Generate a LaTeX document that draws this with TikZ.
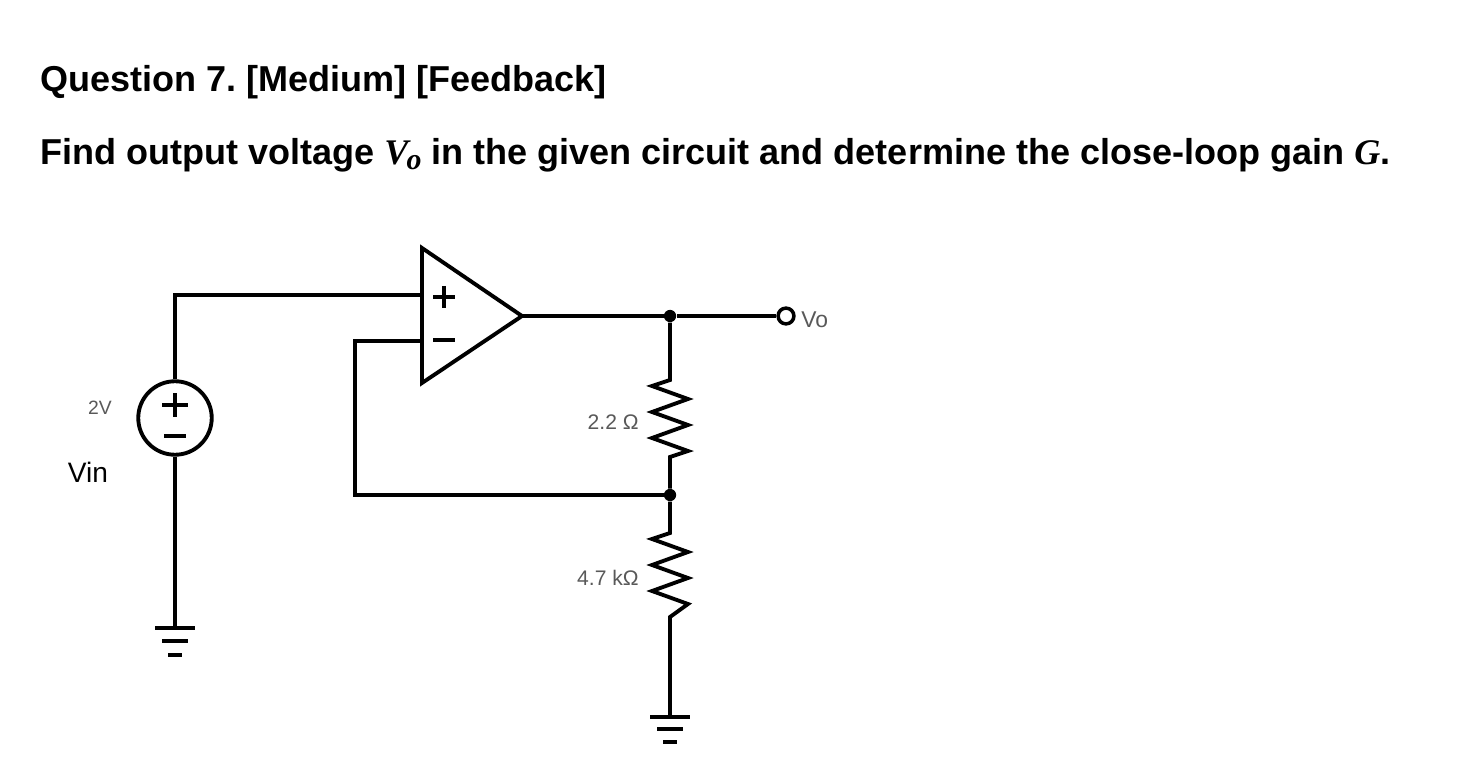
\documentclass[tikz,border=0pt]{standalone}
\usepackage{fontspec}
\setmainfont{Liberation Sans}
\newfontfamily\serifit{Liberation Serif}
\frenchspacing
\begin{document}
\begin{tikzpicture}[x=0.02cm,y=-0.02cm,
  wire/.style={line width=2.2pt,line join=miter},
  lbl/.style={text=black!65,font=\fontsize{12}{14}\selectfont,inner sep=0},
  dot/.style={circle,fill=black,inner sep=0,minimum size=7pt}]
\useasboundingbox (0,0) rectangle (1466,780);
\node[anchor=west,inner sep=0,font=\fontsize{20.5}{24}\selectfont\bfseries] (t1) at (40,82) {Question 7. [Medium] [Feedback]};
\node[anchor=west,inner sep=0,font=\fontsize{20.5}{24}\selectfont\bfseries] (t2) at (40,155) {Find output voltage {\serifit\itshape V\kern-1pt\raisebox{-3pt}{\fontsize{17}{17}\selectfont o}} in the given circuit and determine the close-loop gain {\serifit\itshape G}.};
% op amp
\coordinate (oa1) at (422,248); \coordinate (oa2) at (422,383); \coordinate (oat) at (522,316);
\draw[wire] (oa1) -- (oat) -- (oa2) -- cycle;
\draw[wire] (433,297) -- (455,297) (444,286) -- (444,308);
\draw[wire] (433,340) -- (455,340);
\coordinate (inp) at (422,295); \coordinate (inm) at (422,341);
% source
\node[circle,draw,line width=2.2pt,inner sep=0,minimum size=1.47cm] (src) at (175,418) {};
\draw[wire] (162,405) -- (188,405) (175,393) -- (175,417);
\draw[wire] (164,436) -- (186,436);
\coordinate (sg) at (175,628);
\draw[wire] (src.north) -- (175,295) -- (inp);
\draw[wire] (src.south) -- (sg);
\draw[wire] (155,628) -- (195,628) (162,641) -- (188,641) (168,655) -- (182,655);
% output
\node[dot] (n1) at (670,316) {};
\node[circle,draw,line width=2pt,inner sep=0,minimum size=9pt] (vo) at (786,316) {};
\draw[wire] (oat) -- (n1) -- (vo);
\node[lbl,anchor=west,font=\fontsize{13}{15}\selectfont] (vol) at (801,320) {Vo};
% resistors
\node[dot] (n2) at (670,495) {};
\draw[wire] (n1) -- (670,380) -- (652,386) -- (688,399) -- (652,412) -- (688,425) -- (652,438) -- (688,451) -- (670,457) -- (n2);
\coordinate (g2) at (670,717);
\draw[wire] (n2) -- (670,533) -- (652,539) -- (688,552) -- (652,565) -- (688,578) -- (652,591) -- (688,604) -- (670,617) -- (g2);
\draw[wire] (650,717) -- (690,717) (657,729) -- (683,729) (663,742) -- (677,742);
\draw[wire] (inm) -- (355,341) -- (355,495) -- (n2);
\node[lbl,anchor=east] (r1) at (639,422) {2.2 Ω};
\node[lbl,anchor=east] (r2) at (639,578) {4.7 kΩ};
\node[lbl,font=\fontsize{11}{13}\selectfont] (v2) at (100,408) {2V};
\node[inner sep=0,font=\fontsize{16}{18}\selectfont] (vin) at (88,472) {Vin};
\end{tikzpicture}
\end{document}
